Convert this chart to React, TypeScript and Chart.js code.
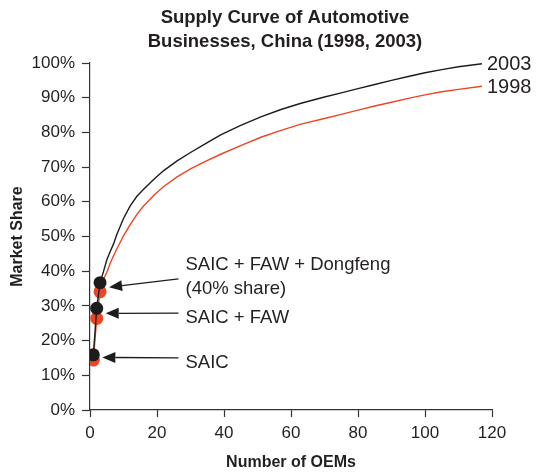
import React, { useEffect, useRef } from "react";
import { Chart, registerables } from "chart.js";

Chart.register(...registerables);

const titleLines = ["Supply Curve of Automotive", "Businesses, China (1998, 2003)"];
const xAxisTitle = "Number of OEMs";
const yAxisTitle = "Market Share";
const seriesNames = ["2003", "1998"];

const oemCounts = [1, 2, 3, 4, 5, 6, 7, 8, 10, 12, 14, 16, 19, 22, 26, 30, 34, 39, 45, 51, 57, 63, 70, 75, 80, 85, 90, 95, 100, 105, 110, 117];
const share2003 = [15.9, 29.3, 36.7, 39.8, 43.2, 45.6, 47.8, 50.6, 55.2, 58.8, 61.6, 63.6, 66.4, 69, 71.8, 74.2, 76.5, 79.3, 82.0, 84.5, 86.6, 88.4, 90.2, 91.4, 92.6, 93.8, 95, 96.1, 97.2, 98.1, 98.9, 99.8];
const share1998 = [14.4, 26.4, 34.1, 37.6, 39.6, 42.2, 44.4, 46.4, 50.2, 53.4, 56.4, 58.8, 61.8, 64.4, 67.2, 69.5, 71.4, 73.7, 76.2, 78.6, 80.6, 82.4, 84, 85.2, 86.4, 87.6, 88.7, 89.8, 90.8, 91.7, 92.4, 93.3];

const xTicks = [0, 20, 40, 60, 80, 100, 120];
const yTicks = [0, 10, 20, 30, 40, 50, 60, 70, 80, 90, 100];

const calloutIndex = [0, 1, 2];
const calloutLines = [["SAIC"], ["SAIC + FAW"], ["SAIC + FAW + Dongfeng", "(40% share)"]];

const FONT = "'Liberation Sans', Arial, sans-serif";
const TEXT = "#231f20";
const BLACK = "#1c1c1c";
const RED = "#ee4423";

// label placement (style, not data)
const calloutTextX = 28.5; // in x units
const calloutTextY = [13.6, 26.5, 41.8]; // in y units (first line center)

const overlayPlugin = {
  id: "overlay",
  afterDatasetsDraw(chart: any) {
    const { ctx, scales } = chart;
    const xs = scales.x;
    const ys = scales.y;
    ctx.save();
    // title
    ctx.fillStyle = TEXT;
    ctx.font = `bold 18.5px ${FONT}`;
    ctx.textAlign = "center";
    ctx.textBaseline = "middle";
    titleLines.forEach((t, i) => ctx.fillText(t, 285, 18 + i * 24));

    // series end labels
    ctx.font = `20px ${FONT}`;
    ctx.textAlign = "left";
    chart.data.datasets.forEach((ds: any, di: number) => {
      const meta = chart.getDatasetMeta(di);
      const last = meta.data[meta.data.length - 1];
      ctx.fillText(seriesNames[di], last.x + 5, last.y + 1);
    });

    // callouts
    ctx.font = `18.5px ${FONT}`;
    const meta0 = chart.getDatasetMeta(0).data;
    const meta1 = chart.getDatasetMeta(1).data;
    calloutIndex.forEach((idx, k) => {
      const p0 = meta0[idx];
      const p1 = meta1[idx];
      const tipX = p0.x + 9;
      const tipY = (p0.y + p1.y) / 2;
      const tx = xs.getPixelForValue(calloutTextX);
      const ty = ys.getPixelForValue(calloutTextY[k]);
      const lines = calloutLines[k];
      lines.forEach((l, j) => {
        ctx.fillStyle = TEXT;
        ctx.fillText(l, tx, ty + j * 24);
      });
      const tailX = tx - 7;
      const tailY = lines.length > 1 ? ty + 14 : ty - 5;
      const ang = Math.atan2(tipY - tailY, tipX - tailX);
      const hl = 13;
      const hw = 5.5;
      const bx = tipX - hl * Math.cos(ang);
      const by = tipY - hl * Math.sin(ang);
      ctx.strokeStyle = BLACK;
      ctx.lineWidth = 1.3;
      ctx.beginPath();
      ctx.moveTo(tailX, tailY);
      ctx.lineTo(bx, by);
      ctx.stroke();
      ctx.fillStyle = BLACK;
      ctx.beginPath();
      ctx.moveTo(tipX, tipY);
      ctx.lineTo(bx + hw * Math.sin(ang), by - hw * Math.cos(ang));
      ctx.lineTo(bx - hw * Math.sin(ang), by + hw * Math.cos(ang));
      ctx.closePath();
      ctx.fill();
    });
    ctx.restore();
  },
};

export default function App() {
  const ref = useRef<HTMLCanvasElement | null>(null);
  useEffect(() => {
    document.body.style.margin = "0";
    const canvas = ref.current!;
    const chart = new Chart(canvas, {
      type: "line",
      data: {
        datasets: [
          {
            label: seriesNames[0],
            data: oemCounts.map((x, i) => ({ x, y: share2003[i] })),
            borderColor: BLACK,
            backgroundColor: BLACK,
            borderWidth: 1.4,
            pointRadius: (c: any) => (c.dataIndex < 3 ? 6.5 : 0),
            pointBorderWidth: 0,
            pointBackgroundColor: BLACK,
            tension: 0,
          },
          {
            label: seriesNames[1],
            data: oemCounts.map((x, i) => ({ x, y: share1998[i] })),
            borderColor: RED,
            backgroundColor: RED,
            borderWidth: 1.4,
            pointRadius: (c: any) => (c.dataIndex < 3 ? 6.5 : 0),
            pointBorderWidth: 0,
            pointBackgroundColor: RED,
            tension: 0,
          },
        ],
      },
      options: {
        animation: false,
        responsive: false,
        layout: { padding: { top: 63, right: 46, left: 0, bottom: 0 } },
        plugins: { legend: { display: false }, tooltip: { enabled: false }, title: { display: false } },
        scales: {
          x: {
            type: "linear",
            min: 0,
            max: 120,
            afterFit: (s: any) => { s.height = 62; },
            afterBuildTicks: (s: any) => { s.ticks = xTicks.map((v) => ({ value: v })); },
            grid: { drawOnChartArea: false, drawTicks: true, tickLength: 7, color: "#333", tickWidth: 1.2 },
            border: { display: true, color: "#333", width: 1.2 },
            ticks: { color: TEXT, font: { family: FONT, size: 17 }, padding: 6, maxRotation: 0 },
            title: { display: true, text: xAxisTitle, color: TEXT, font: { family: FONT, size: 16, weight: "bold" }, padding: { top: 0, bottom: 0 } },
          },
          y: {
            type: "linear",
            min: 0,
            max: 100,
            afterFit: (s: any) => { s.width = 90; },
            afterBuildTicks: (s: any) => { s.ticks = yTicks.map((v) => ({ value: v })); },
            grid: { drawOnChartArea: false, drawTicks: true, tickLength: 8, color: "#333", tickWidth: 1.2 },
            border: { display: true, color: "#333", width: 1.2 },
            ticks: { color: TEXT, font: { family: FONT, size: 17 }, padding: 7, callback: (v: any) => v + "%" },
            title: { display: true, text: yAxisTitle, color: TEXT, font: { family: FONT, size: 16, weight: "bold" }, padding: { top: 8, bottom: 0 } },
          },
        },
      },
      plugins: [overlayPlugin],
    });
    return () => chart.destroy();
  }, []);
  return (
    <div style={{ width: 538, height: 472 }}>
      <canvas ref={ref} width={538} height={472} style={{ display: "block" }} />
    </div>
  );
}
